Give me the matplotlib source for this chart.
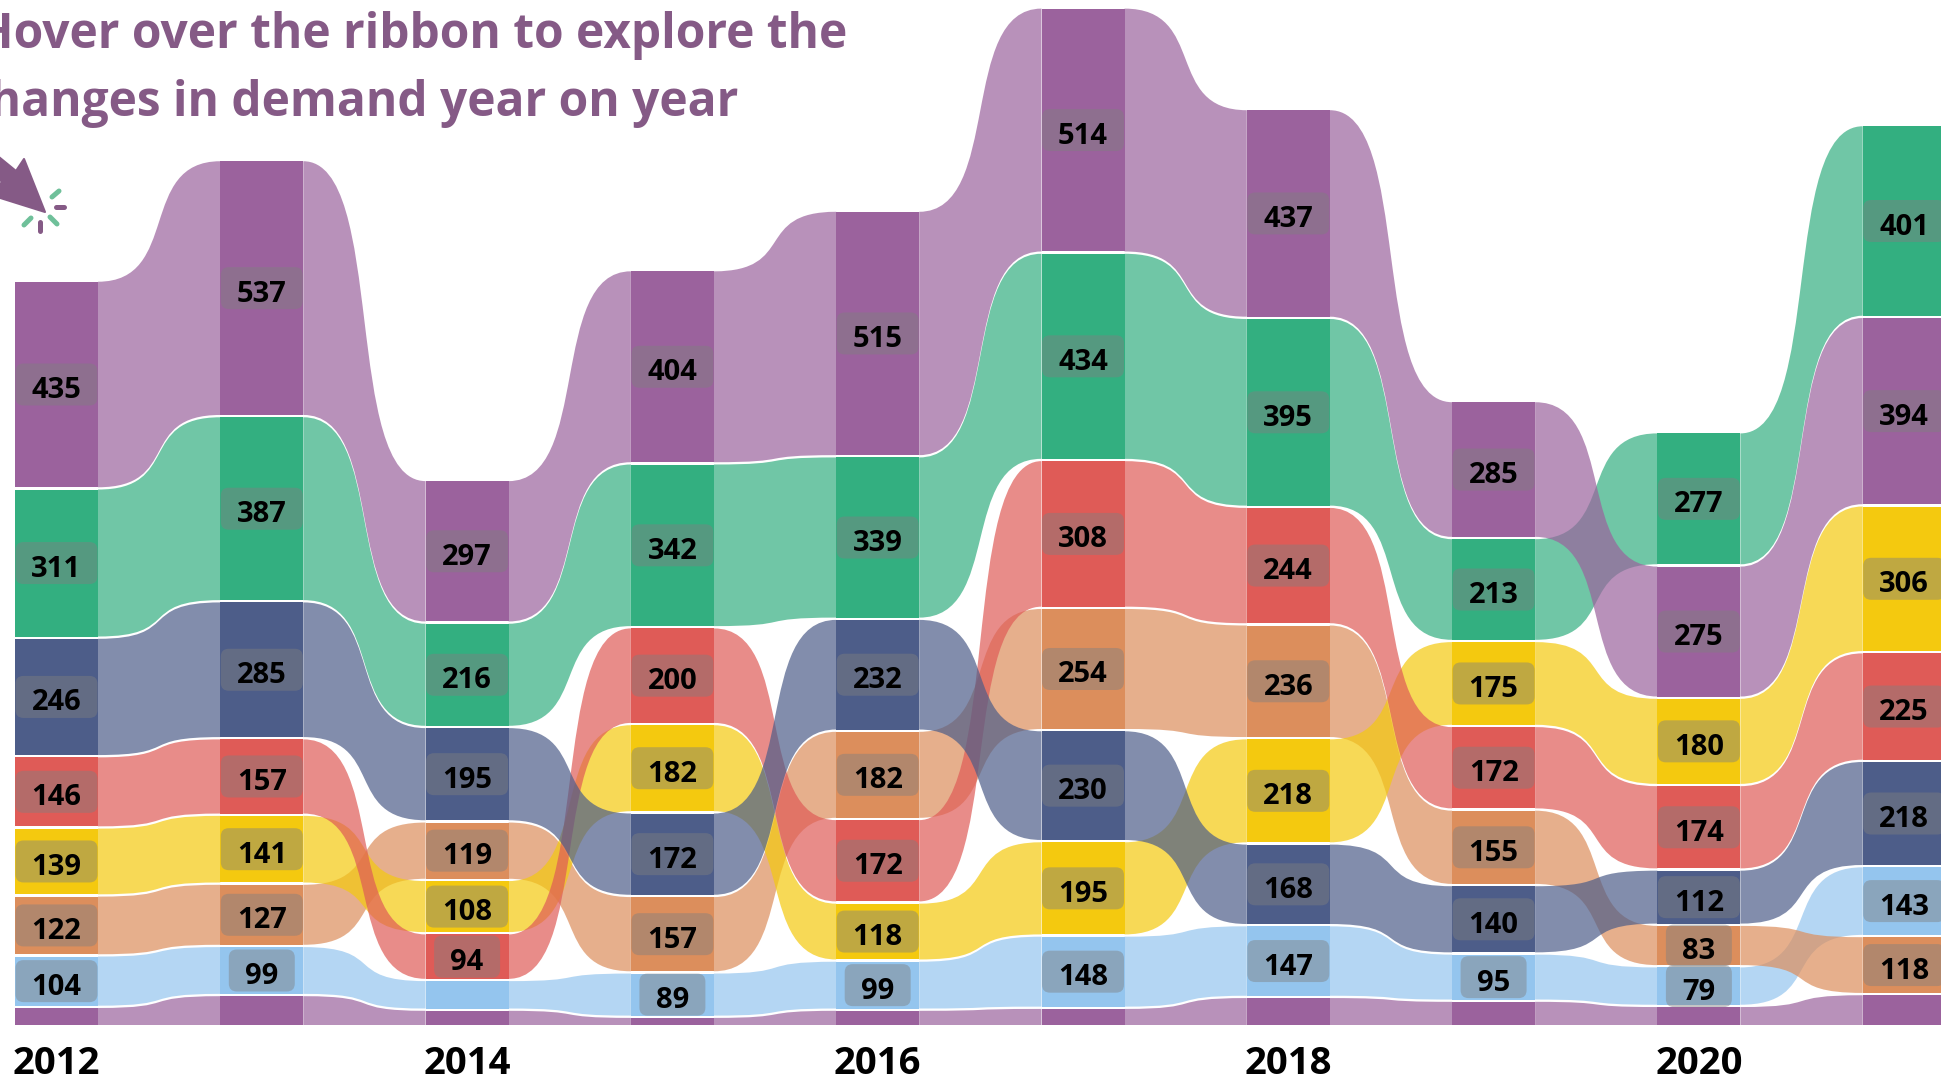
import numpy as np
import matplotlib
matplotlib.use("Agg")
import matplotlib.pyplot as plt
from matplotlib.path import Path
from matplotlib.patches import PathPatch, FancyBboxPatch, Polygon
from matplotlib.lines import Line2D

W, H = 1941, 1079
years = [2012, 2013, 2014, 2015, 2016, 2017, 2018, 2019, 2020, 2021]
purple = [435, 537, 297, 404, 515, 514, 437, 285, 275, 394]
green = [311, 387, 216, 342, 339, 434, 395, 213, 277, 401]
navy = [246, 285, 195, 172, 232, 230, 168, 140, 112, 218]
red = [146, 157, 94, 200, 172, 308, 244, 172, 174, 225]
yellow = [139, 141, 108, 182, 118, 195, 218, 175, 180, 306]
orange = [122, 127, 119, 157, 182, 254, 236, 155, 83, 118]
blue = [104, 99, 58, 89, 99, 148, 147, 95, 79, 143]
strip = [36, 61, 30, 15, 30, 34, 57, 49, 38, 63]
series = [
    ("purple", purple, "#9B629D", True),
    ("green", green, "#33AF80", True),
    ("navy", navy, "#4D5D89", True),
    ("red", red, "#DF5B57", True),
    ("yellow", yellow, "#F4C90F", True),
    ("orange", orange, "#DC8E5C", True),
    ("blue", blue, "#94C5EE", True),
    ("strip", strip, "#9B629D", False),
]
unlabelled = {("blue", 2014)}
title_lines = ["Hover over the ribbon to explore the", "changes in demand year on year"]
title_color = "#855A86"
font = "Open Sans"

PX = 0.4725          # px per unit
GAP = 2.3 / PX       # gap between stacked bands, in units
STEP = 205.3         # px per year
BAR = 83 / STEP      # bar width in years
BASE_PX = 1025
CTRL = 0.68          # bezier handle length as a share of the ribbon span

fig = plt.figure(figsize=(W / 100, H / 100), dpi=100)
ax = fig.add_axes([0, 1 - BASE_PX / H, 1, BASE_PX / H])
ax.set_xlim(-56.5 / STEP, (W - 56.5) / STEP)
ax.set_ylim(0, BASE_PX / PX)
ax.axis("off")

# stack each year, sorted by value (largest on top)
n = len(years)
lo = {s[0]: [0.0] * n for s in series}
hi = {s[0]: [0.0] * n for s in series}
for i in range(n):
    y = 0.0
    for s in sorted(series, key=lambda t: t[1][i]):
        lo[s[0]][i] = y
        hi[s[0]][i] = y + s[1][i]
        y += s[1][i] + GAP

for name, vals, col, lab in reversed(series):
    for i in range(n - 1):
        x0, x1 = i + BAR / 2, i + 1 - BAR / 2
        c0 = x0 + CTRL * (x1 - x0)
        c1 = x1 - CTRL * (x1 - x0)
        a0, a1, b0, b1 = hi[name][i], hi[name][i + 1], lo[name][i], lo[name][i + 1]
        verts = [(x0, a0), (c0, a0), (c1, a1), (x1, a1), (x1, b1), (c1, b1), (c0, b0), (x0, b0), (x0, a0)]
        codes = [Path.MOVETO, Path.CURVE4, Path.CURVE4, Path.CURVE4, Path.LINETO,
                 Path.CURVE4, Path.CURVE4, Path.CURVE4, Path.CLOSEPOLY]
        ax.add_patch(PathPatch(Path(verts, codes), fc=col, ec="none", alpha=0.7, zorder=2))

for name, vals, col, lab in series:
    for i in range(n):
        ax.bar(i, vals[i], BAR, bottom=lo[name][i], color=col, lw=0, zorder=3)

aspect = STEP / PX   # y units per x unit at equal pixel length
for name, vals, col, lab in series:
    if not lab:
        continue
    for i in range(n):
        if (name, years[i]) in unlabelled:
            continue
        yc = (lo[name][i] + hi[name][i]) / 2
        txt = str(vals[i])
        bw = (82 if len(txt) == 3 else 66) / STEP
        bh = 42 / PX
        ax.add_patch(FancyBboxPatch((i - bw / 2, yc - bh / 2), bw, bh,
                                    boxstyle=f"round,pad=0,rounding_size={8 / STEP}",
                                    mutation_aspect=aspect,
                                    fc="#808080", ec="none", alpha=0.45, zorder=4))
        ax.annotate(txt, (i, yc), xytext=(0, -2.5), textcoords="offset pixels",
                    ha="center", va="center_baseline", fontsize=21,
                    family=font, weight="bold", color="black", zorder=5)

for i in range(0, n, 2):
    ax.annotate(str(years[i]), (i, 0), xytext=(0, -34), textcoords="offset pixels",
                ha="center", va="center_baseline", fontsize=27.5, family=font,
                weight="bold", color="black", annotation_clip=False)

fig.text(847 / W, 1 - 30 / H, title_lines[0], ha="right", va="center_baseline",
         fontsize=34.5, family=font, weight="bold", color=title_color)
fig.text(738 / W, 1 - 97 / H, title_lines[1], ha="right", va="center_baseline",
         fontsize=34.5, family=font, weight="bold", color=title_color)

# decorative cursor icon, placed in figure pixels
def fx(p):
    return (p[0] / W, 1 - p[1] / H)

cursor = [(-6, 153), (16, 171), (24, 159), (45, 212), (-6, 196), (-6, 187), (3, 182), (-6, 177)]
fig.add_artist(Polygon([fx(p) for p in cursor], closed=True, transform=fig.transFigure,
                       fc=title_color, ec=title_color, lw=1.5, joinstyle="round"))
sparks = [
    ((52, 197), (59, 191), "#6FC09A"),
    ((56, 207), (64, 207), title_color),
    ((50, 217), (57, 224), "#6FC09A"),
    ((40, 222), (40, 231), title_color),
    ((24, 225), (31, 218), "#6FC09A"),
]
for p0, p1, c in sparks:
    a, b = fx(p0), fx(p1)
    fig.add_artist(Line2D([a[0], b[0]], [a[1], b[1]], transform=fig.transFigure,
                          color=c, lw=3.6, solid_capstyle="round"))

fig.savefig("out.png", dpi=100)
